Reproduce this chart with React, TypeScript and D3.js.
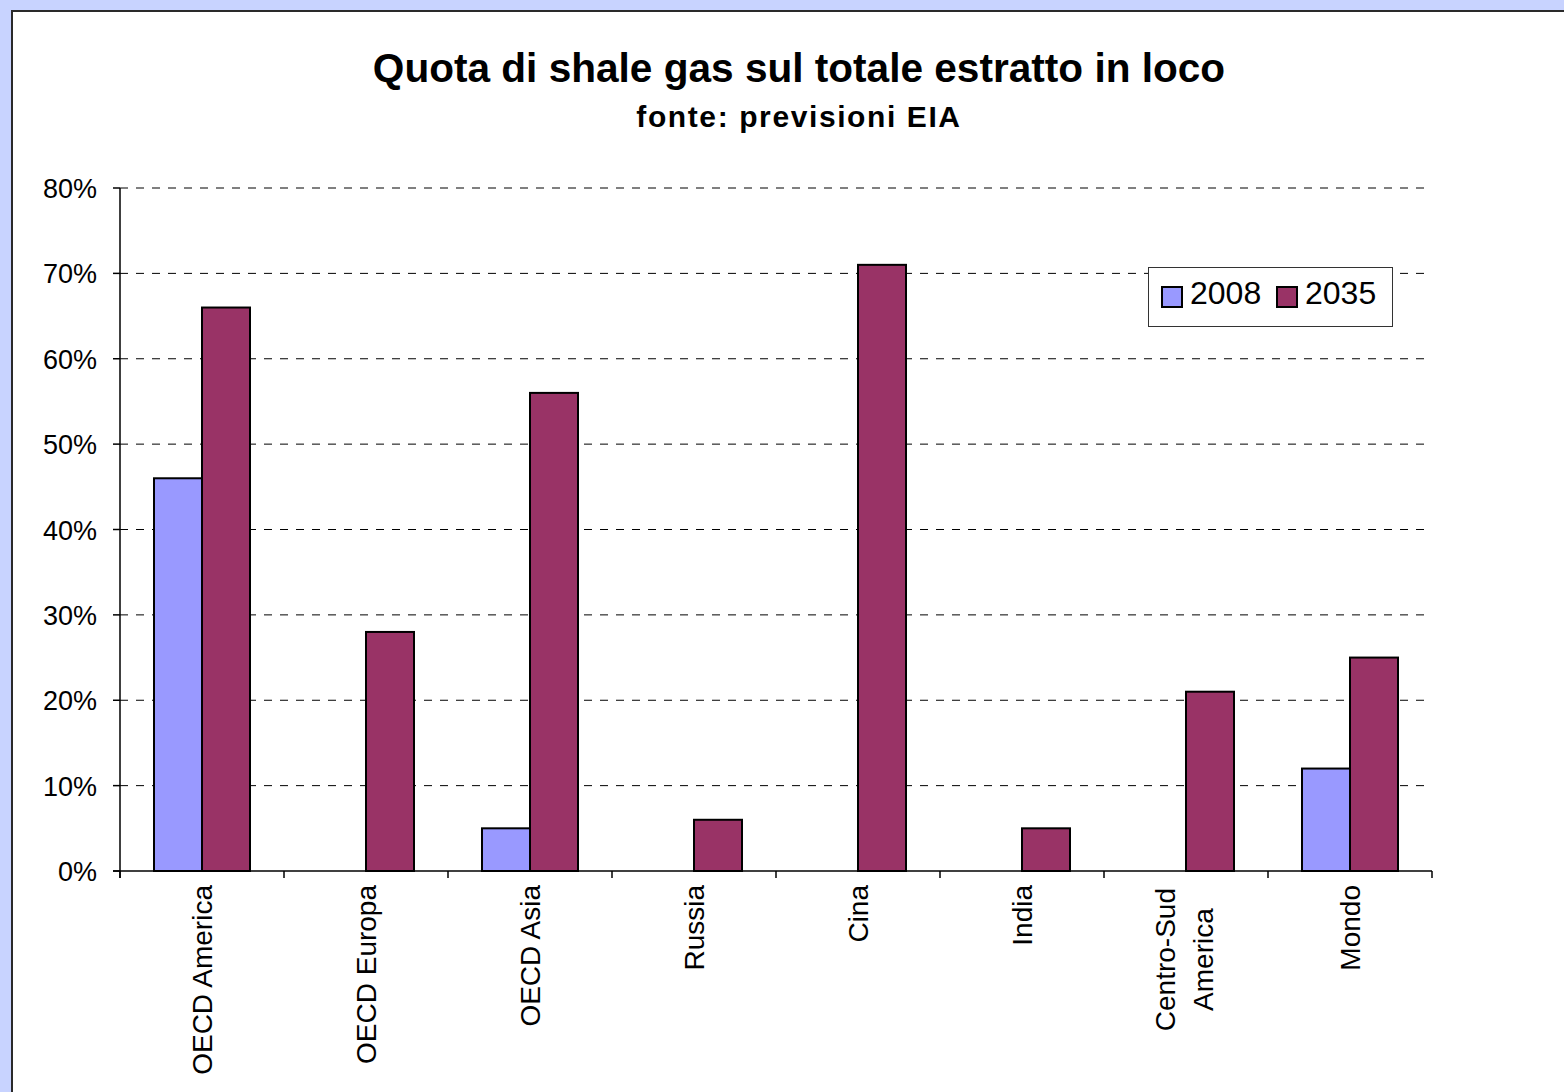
import React from "react";
import * as d3 from "d3";

const categories = [
  "OECD America",
  "OECD Europa",
  "OECD Asia",
  "Russia",
  "Cina",
  "India",
  "Centro-Sud America",
  "Mondo",
];
const categoryLines = [
  ["OECD America"],
  ["OECD Europa"],
  ["OECD Asia"],
  ["Russia"],
  ["Cina"],
  ["India"],
  ["Centro-Sud", "America"],
  ["Mondo"],
];
const seriesNames = ["2008", "2035"];
const values2008 = [46, 0, 5, 0, 0, 0, 0, 12];
const values2035 = [66, 28, 56, 6, 71, 5, 21, 25];
const yTicks = [0, 10, 20, 30, 40, 50, 60, 70, 80];
const seriesColors = ["#9999FF", "#993366"];

const FONT = "'Liberation Sans', Arial, sans-serif";

function measure(text: string, size: number): number {
  if (typeof document === "undefined") return text.length * size * 0.5;
  const c = document.createElement("canvas").getContext("2d");
  if (!c) return text.length * size * 0.5;
  c.font = `${size}px 'Liberation Sans', Arial, sans-serif`;
  return c.measureText(text).width;
}

export default function App() {
  const W = 1564;
  const H = 1092;
  const left = 120;
  const right = 1432;
  const top = 188;
  const bottom = 871;

  const x = d3
    .scaleBand<string>()
    .domain(categories)
    .range([left, right])
    .paddingInner(0.4146)
    .paddingOuter(0.2073);
  const xs = d3.scaleBand<string>().domain(seriesNames).range([0, x.bandwidth()]);
  const y = d3.scaleLinear().domain([0, 80]).range([bottom, top]);

  const series = [values2008, values2035];
  const step = x.step();
  const boundaries = d3.range(categories.length + 1).map((i) => left + i * step);
  const labelTop = 885;
  const labelSize = 28;

  return (
    <svg
      width={W}
      height={H}
      style={{ position: "absolute", left: 0, top: 0, display: "block" }}
      fontFamily={FONT}
    >
      <rect x={0} y={0} width={W} height={H} fill="#C8D3FF" />
      <rect x={12} y={11} width={W + 20} height={H + 20} fill="#FFFFFF" stroke="#2a2a2a" strokeWidth={2} />

      <text x={799} y={82} textAnchor="middle" fontSize={40.6} fontWeight="bold" fill="#000">
        Quota di shale gas sul totale estratto in loco
      </text>
      <text x={799} y={127} textAnchor="middle" fontSize={30} fontWeight="bold" letterSpacing={1.6} fill="#000">
        fonte: previsioni EIA
      </text>

      {/* gridlines */}
      {yTicks
        .filter((t) => t > 0)
        .map((t) => (
          <line
            key={"g" + t}
            x1={left}
            x2={right}
            y1={y(t)}
            y2={y(t)}
            stroke="#000"
            strokeWidth={1}
            strokeDasharray="8 8"
          />
        ))}

      {/* bars */}
      {categories.map((c, i) =>
        series.map((vals, s) =>
          vals[i] > 0 ? (
            <rect
              key={c + s}
              x={(x(c) as number) + (xs(seriesNames[s]) as number)}
              y={y(vals[i])}
              width={xs.bandwidth()}
              height={y(0) - y(vals[i])}
              fill={seriesColors[s]}
              stroke="#000"
              strokeWidth={2}
            />
          ) : null
        )
      )}

      {/* y axis */}
      <line x1={left} x2={left} y1={top} y2={bottom + 7} stroke="#000" strokeWidth={1.5} />
      {yTicks.map((t) => (
        <g key={"yt" + t}>
          <line x1={left - 7} x2={left} y1={y(t)} y2={y(t)} stroke="#000" strokeWidth={1.5} />
          <text x={97} y={y(t) + 10} textAnchor="end" fontSize={27} fill="#000">
            {t + "%"}
          </text>
        </g>
      ))}

      {/* x axis */}
      <line x1={left - 7} x2={right} y1={bottom} y2={bottom} stroke="#000" strokeWidth={1.5} />
      {boundaries.map((bx, i) => (
        <line key={"xt" + i} x1={bx} x2={bx} y1={bottom} y2={bottom + 7} stroke="#000" strokeWidth={1.5} />
      ))}
      {categories.map((c, i) => {
        const cx = (x(c) as number) + x.bandwidth() / 2;
        const lines = categoryLines[i];
        const gap = 38;
        const longest = d3.max(lines, (l) => measure(l, labelSize)) as number;
        const midY = labelTop + 3 + longest / 2;
        return lines.map((ln, j) => {
          const lx = cx + (j - (lines.length - 1) / 2) * gap - 2 * (lines.length - 1);
          const multi = lines.length > 1;
          return (
            <text
              key={c + j}
              transform={`translate(${lx},${multi ? midY : labelTop}) rotate(-90)`}
              textAnchor={multi ? "middle" : "end"}
              dy="0.36em"
              fontSize={labelSize}
              fill="#000"
            >
              {ln}
            </text>
          );
        });
      })}

      {/* legend */}
      <rect x={1148.5} y={267.5} width={244} height={59} fill="#FFFFFF" stroke="#333" strokeWidth={1} />
      {seriesNames.map((s, i) => {
        const sx = [1162, 1277][i];
        return (
          <g key={"lg" + s}>
            <rect x={sx} y={287} width={20} height={20} fill={seriesColors[i]} stroke="#000" strokeWidth={2} />
            <text x={sx + 28} y={304} fontSize={32} fill="#000">
              {s}
            </text>
          </g>
        );
      })}
    </svg>
  );
}
